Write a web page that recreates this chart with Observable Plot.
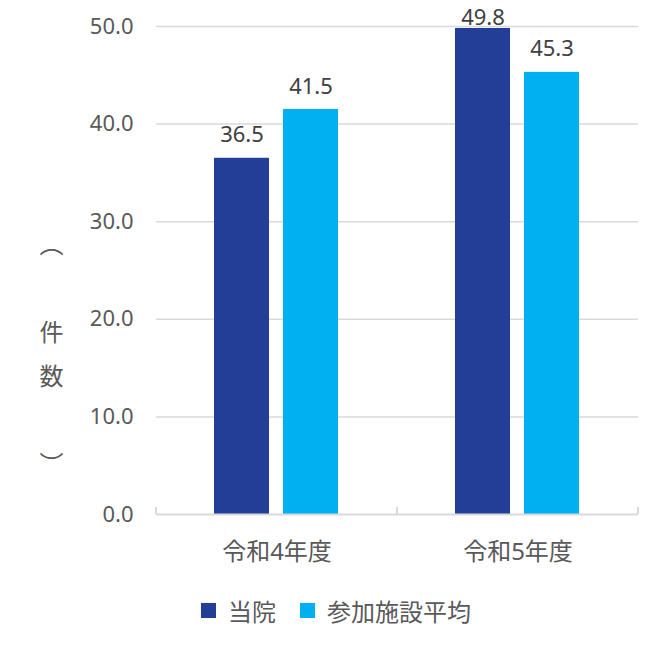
<!DOCTYPE html>
<html><head><meta charset="utf-8">
<script src="https://cdn.jsdelivr.net/npm/d3@7"></script>
<script src="https://cdn.jsdelivr.net/npm/@observablehq/plot@0.6"></script>
<style>
body{margin:0;background:#fff;font-family:"Noto Sans","Noto Sans CJK JP",sans-serif;}
#chart svg [aria-label^="fx-axis"] text{font-size:24px;}
#legendWrap{margin-top:13px;display:flex;justify-content:center;padding-left:33px;}
</style></head><body>
<div id="chart"></div>
<div id="legendWrap"></div>
<script>
const years = ["令和4年度", "令和5年度"];
const seriesNames = ["当院", "参加施設平均"];
const hospitalValues = [36.5, 49.8];
const averageValues = [41.5, 45.3];
const yTicks = [0, 10, 20, 30, 40, 50];
const yLabel = "（　件数　）";
const colors = ["#233E96", "#00B0F0"];

const data = years.flatMap((year, i) => [
  {year, series: seriesNames[0], value: hospitalValues[i]},
  {year, series: seriesNames[1], value: averageValues[i]}
]);

const font = '"Noto Sans","Noto Sans CJK JP",sans-serif';

const chart = Plot.plot({
  width: 663,
  height: 580,
  marginTop: 26,
  marginBottom: 66,
  marginLeft: 155,
  marginRight: 25,
  style: {fontFamily: font, fontSize: "22px", color: "#595959", background: "#fff"},
  fx: {domain: years, padding: 0, label: null, tickSize: 0, tickPadding: 28},
  x: {domain: seriesNames, paddingInner: 0.2, paddingOuter: 0.825, axis: null},
  y: {domain: [0, 50], ticks: yTicks, tickFormat: d => d.toFixed(1), tickSize: 0, tickPadding: 23, label: null},
  color: {domain: seriesNames, range: colors},
  marks: [
    Plot.ruleY(yTicks.filter(t => t > 0), {stroke: "#D9D9D9", strokeWidth: 1.5}),
    Plot.barY(data, {fx: "year", x: "series", y: "value", fill: "series"}),
    Plot.ruleY([0], {stroke: "#D9D9D9", strokeWidth: 2}),
    Plot.text(data, {filter: d => d.value < 48, fx: "year", x: "series", y: "value", text: d => d.value.toFixed(1), dy: -23, fill: "#404040", fontSize: 22}),
    Plot.text(data, {filter: d => d.value >= 48, fx: "year", x: "series", y: "value", text: d => d.value.toFixed(1), dy: -10, fill: "#404040", fontSize: 22}),
    Plot.text([yLabel], {fx: () => years[0], frameAnchor: "left", dx: -105, dy: -46, fill: "#595959", fontSize: 24, fontFamily: '"Noto Sans CJK JP",sans-serif', className: "ylabel"})
  ]
});

document.getElementById("chart").appendChild(chart);

// vertical label
d3.select(chart).selectAll(".ylabel text")
  .style("writing-mode", "vertical-rl")
  .style("letter-spacing", "20px");

// small tick marks at category boundaries on the baseline
const fxs = chart.scale("fx");
const ys = chart.scale("y");
const y0 = ys.apply(0);
const bounds = years.map(y => fxs.apply(y)).concat([fxs.apply(years[years.length - 1]) + fxs.bandwidth]);
d3.select(chart).append("g").attr("aria-label", "category ticks")
  .selectAll("line").data(bounds).join("line")
  .attr("x1", d => d).attr("x2", d => d)
  .attr("y1", y0 - 7).attr("y2", y0)
  .attr("stroke", "#D9D9D9").attr("stroke-width", 2);

const legend = Plot.legend({
  color: {domain: seriesNames, range: colors},
  swatchSize: 15,
  style: {fontSize: "24px", color: "#595959", fontFamily: '"Noto Sans CJK JP",sans-serif'}
});
document.getElementById("legendWrap").appendChild(legend);
</script>
</body></html>
